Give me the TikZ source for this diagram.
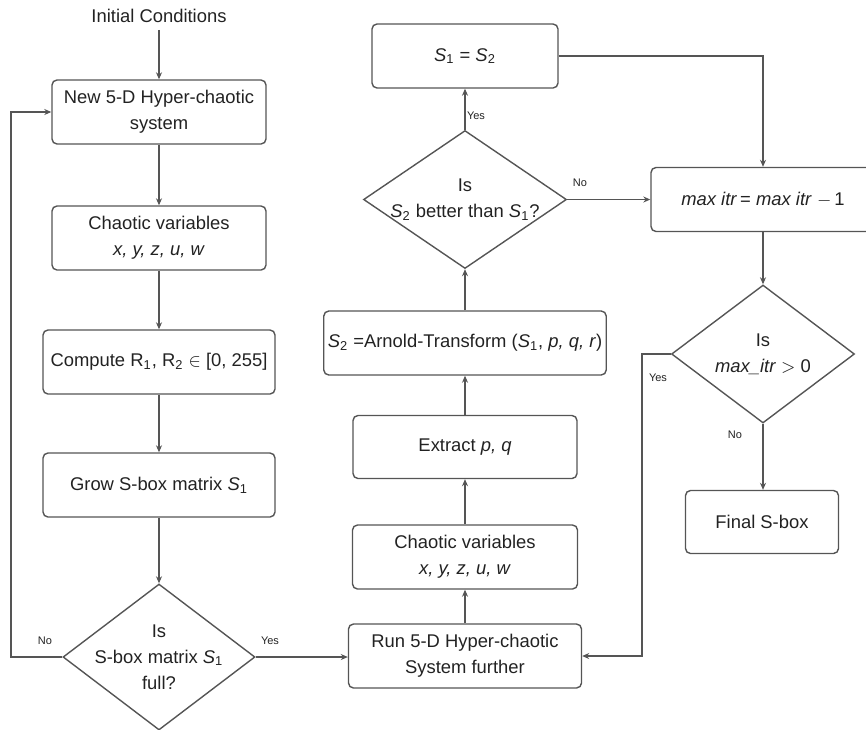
\documentclass[tikz,border=0pt]{standalone}
\usepackage{fontspec}
\setmainfont{Liberation Sans}
\usetikzlibrary{shapes,arrows,positioning,shapes.geometric,arrows.meta,calc}
\definecolor{lineGray}{HTML}{555555}
\definecolor{textGray}{HTML}{222222}
\newcommand{\nodefont}{\fontsize{9.2}{13}\selectfont}
\newcommand{\Sbox}[1]{\textit{S}\textsubscript{#1}}
\tikzset{
  >={Stealth[length=3.5pt,width=3pt]},
  process/.style={rectangle,rounded corners=2.5pt,draw=lineGray,line width=0.7pt,
    minimum height=32pt,inner xsep=2pt,align=center,font=\nodefont,text=textGray},
  decision/.style={diamond,draw=lineGray,line width=0.7pt,aspect=1.3,inner sep=-4pt,
    align=center,font=\nodefont,text=textGray},
  flow/.style={->,draw=lineGray,line width=0.7pt},
  branchlabel/.style={font=\fontsize{5.5}{6}\selectfont,text=textGray},
}
\begin{document}
\begin{tikzpicture}[x=0.5pt,y=-0.5pt]
\clip (0,0) rectangle (866,729);

% ===== Left column: build the first S-box =====
\node[font=\nodefont,text=textGray] (init) at (159,16) {Initial Conditions};
\node[process,minimum width=107pt] (new5d) at (159,112) {New 5-D Hyper-chaotic\\system};
\node[process,minimum width=107pt] (varsA) at (159,238) {Chaotic variables\\\textit{x, y, z, u, w}};
\node[process,minimum width=116pt] (compute) at (159,362) {Compute R\textsubscript{1}, R\textsubscript{2} $\in$ [0, 255]};
\node[process,minimum width=116pt] (grow) at (159,485) {Grow S-box matrix \Sbox{1}};
\node[decision,minimum width=96pt,minimum height=73pt] (isFull) at (159,657) {Is\\S-box matrix \Sbox{1}\\full?};

% ===== Middle column: Arnold transform =====
\node[process,minimum width=116.5pt] (run) at (465,656) {Run 5-D Hyper-chaotic\\System further};
\node[process,minimum width=112.5pt] (varsB) at (465,557) {Chaotic variables\\\textit{x, y, z, u, w}};
\node[process,minimum width=112pt,minimum height=31.5pt] (extract) at (465,447) {Extract \textit{p, q}};
\node[process,minimum width=140pt] (arnold) at (465,343) {\Sbox{2} =Arnold-Transform (\Sbox{1}, \textit{p, q, r})};
\node[decision,minimum width=101.5pt,minimum height=69pt] (isBetter) at (465,199.5) {Is\\\Sbox{2} better than \Sbox{1}?};
\node[process,minimum width=93pt] (swap) at (465,56) {\Sbox{1} = \Sbox{2}};

% ===== Right column: iteration count =====
\node[process,minimum width=112pt] (decr) at (763,199.5) {\textit{max itr}\,= \textit{max itr} $-$\,1};
\node[decision,minimum width=91.5pt,minimum height=69pt] (isLeft) at (763,354) {Is\\\textit{max\_itr} $>$ 0};
\node[process,minimum width=76.5pt,minimum height=31.5pt] (final) at (762,522) {Final S-box};

% ===== Connections =====
\draw[flow] (init) -- (new5d);
\draw[flow] (new5d) -- (varsA);
\draw[flow] (varsA) -- (compute);
\draw[flow] (compute) -- (grow);
\draw[flow] (grow) -- (isFull);
\coordinate (loopL) at (11,657);
\draw[flow] (isFull.west) -- (loopL) |- (new5d.west);
\node[branchlabel] (noFull) at (45,641) {No};
\draw[flow] (isFull.east) -- (isFull.east -| run.west);
\node[branchlabel] (yesFull) at (270,641) {Yes};

\draw[flow] (run) -- (varsB);
\draw[flow] (varsB) -- (extract);
\draw[flow] (extract) -- (arnold);
\draw[flow] (arnold) -- (isBetter);
\draw[flow] (isBetter) -- (swap);
\node[branchlabel] (yesBetter) at (476,116) {Yes};
\draw[flow] (isBetter.east) -- (decr.west);
\node[branchlabel] (noBetter) at (580,183) {No};
\draw[flow] (swap.east) -| (decr.north);

\draw[flow] (decr) -- (isLeft);
\draw[flow] (isLeft.south) -- (isLeft.south |- final.north);
\node[branchlabel] (noLeft) at (735,435) {No};
\coordinate (loopR) at (642,354);
\draw[flow] (isLeft.west) -- (loopR) |- (run.east);
\node[branchlabel] (yesLeft) at (658,378) {Yes};

\end{tikzpicture}
\end{document}
